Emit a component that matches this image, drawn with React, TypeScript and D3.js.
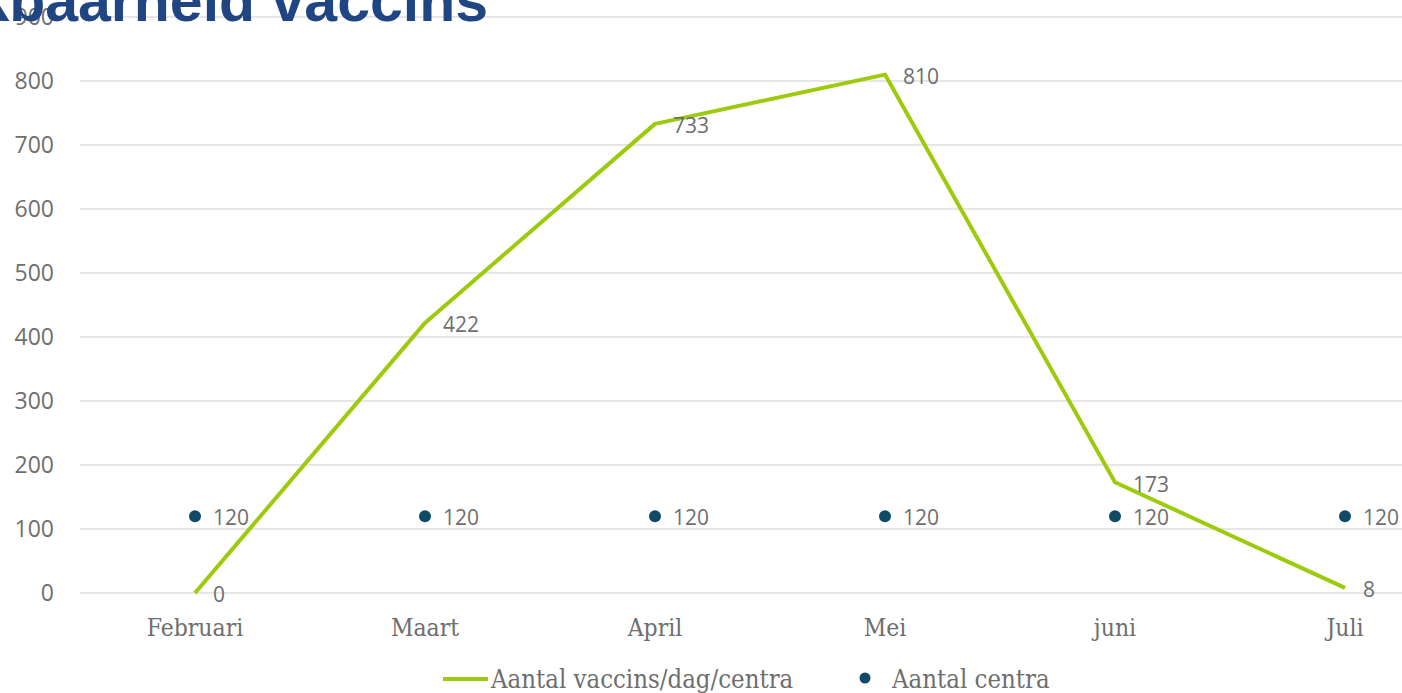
import React from 'react';
import * as d3 from 'd3';

const months = ['Februari', 'Maart', 'April', 'Mei', 'juni', 'Juli'];
const vaccins = [0, 422, 733, 810, 173, 8];
const centra = [120, 120, 120, 120, 120, 120];
const yTicks = [0, 100, 200, 300, 400, 500, 600, 700, 800, 900];

const W = 1402, H = 693;
const GREEN = '#9dcb0c';
const DOT = '#0f4a66';
const GREY = '#6e6e6e';
const SERIF = '"DejaVu Serif Condensed", "DejaVu Serif", serif';
const SANS = '"Open Sans", "DejaVu Sans", sans-serif';

export default function App() {
  const x = d3.scaleBand().domain(months).range([80, 1460]);
  const y = d3.scaleLinear().domain([0, 900]).range([593, 17]);
  const cx = (m: string) => (x(m) || 0) + x.bandwidth() / 2;
  const line = d3.line<number>().x((_, i) => cx(months[i])).y(d => y(d));

  return (
    <div style={{ position: 'absolute', left: 0, top: 0 }}>
      <svg width={W} height={H} style={{ display: 'block', background: '#fff' }}>
        {yTicks.map(t => (
          <g key={t}>
            <line x1={80} x2={W} y1={y(t)} y2={y(t)} stroke="#e6e6e6" strokeWidth={2} />
            <text x={54} y={y(t)} dy="0.35em" textAnchor="end" fontFamily={SANS} fontSize={23} fill={GREY}>{t}</text>
          </g>
        ))}
        {months.map(m => (
          <text key={m} x={cx(m)} y={636} textAnchor="middle" fontFamily={SERIF} fontSize={24.5} fill={GREY}>{m}</text>
        ))}
        <path d={line(vaccins) || ''} fill="none" stroke={GREEN} strokeWidth={4} strokeLinejoin="round" />
        {vaccins.map((v, i) => (
          <text key={'v' + i} x={cx(months[i]) + 18} y={y(v) + 2} dy="0.35em" fontFamily={SANS} fontSize={21} fill={GREY}>{v}</text>
        ))}
        {centra.map((v, i) => (
          <g key={'c' + i}>
            <circle cx={cx(months[i])} cy={y(v)} r={6} fill={DOT} />
            <text x={cx(months[i]) + 18} y={y(v) + 1} dy="0.35em" fontFamily={SANS} fontSize={21} fill={GREY}>{v}</text>
          </g>
        ))}
        <g fontFamily={SERIF} fontSize={25.5} fill={GREY}>
          <line x1={443} x2={488} y1={679} y2={679} stroke={GREEN} strokeWidth={4} />
          <text x={491} y={679} dy="0.35em">Aantal vaccins/dag/centra</text>
          <circle cx={865} cy={678} r={5.5} fill={DOT} />
          <text x={892} y={679} dy="0.35em">Aantal centra</text>
        </g>
        <text x={488} y={21} textAnchor="end" fontFamily='"Liberation Sans", Arial, sans-serif' fontWeight="bold" fontSize={59} fill="#1f4683">Beschikbaarheid vaccins</text>
      </svg>
    </div>
  );
}
